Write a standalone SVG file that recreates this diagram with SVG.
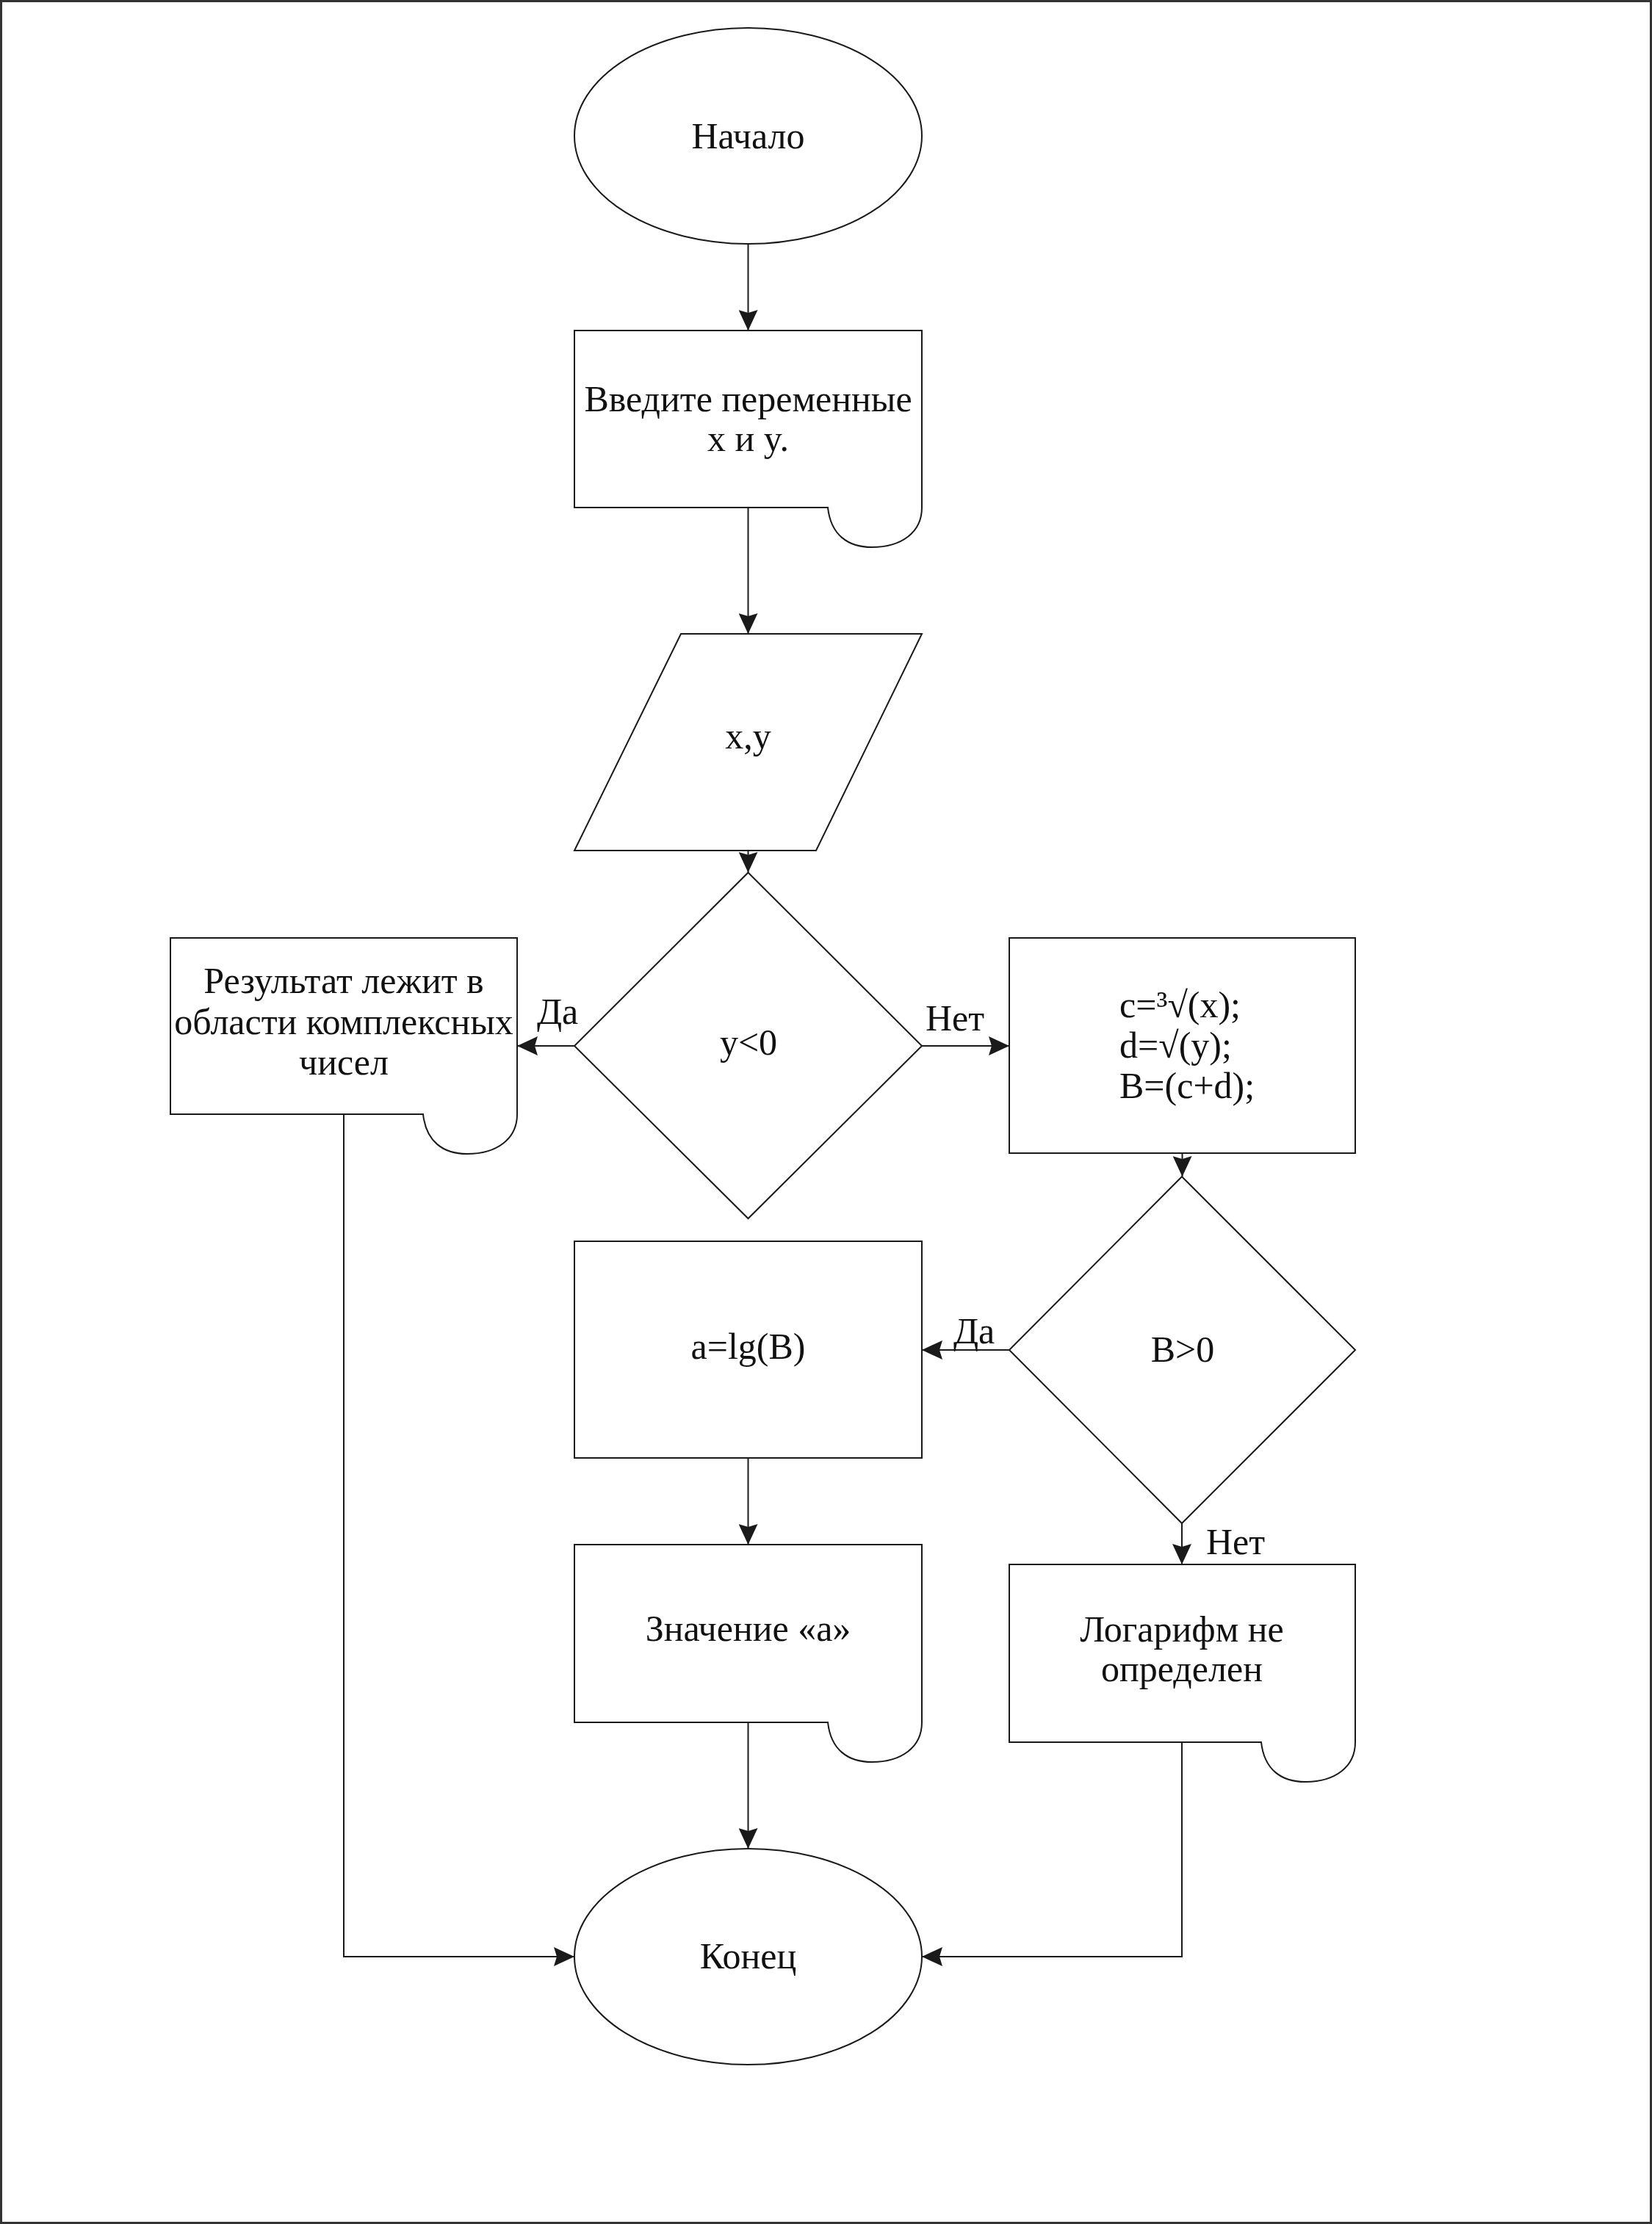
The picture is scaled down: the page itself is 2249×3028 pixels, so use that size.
<svg xmlns="http://www.w3.org/2000/svg" width="2249" height="3028" viewBox="0 0 2249 3028">
<style>
.s{fill:#fff;stroke:#1a1a1a;stroke-width:2}
.t{font-family:"Liberation Serif","Times New Roman",serif;font-size:50px;fill:#111;text-anchor:middle}
.l{font-family:"Liberation Serif","Times New Roman",serif;font-size:50px;fill:#111;text-anchor:start}
.c{fill:none;stroke:#1a1a1a;stroke-width:2}
</style>
<defs>
<marker id="ah" viewBox="0 0 28 26" refX="28" refY="13" markerWidth="28" markerHeight="26" markerUnits="userSpaceOnUse" orient="auto">
<path d="M0,0 L28,13 L0,26 L4,13 Z" fill="#1a1a1a"/>
</marker>
</defs>
<rect x="1.5" y="1.5" width="2246" height="3025" fill="#fff" stroke="#333" stroke-width="3"/>
<g id="start">
<ellipse class="s" cx="1018.5" cy="185" rx="236.5" ry="147"/>
<text class="t" x="1018.5" y="202">Начало</text>
</g>
<g id="prompt">
<path class="s" d="M782,450 H1255 V691 C1255,725 1227,745 1187,745 C1154,745 1131,728 1127,691 H782 Z"/>
<text class="t" x="1018.5" y="560">Введите переменные</text>
<text class="t" x="1018.5" y="614">x и y.</text>
</g>
<g id="input">
<path class="s" d="M927,863 H1255 L1111,1158 H782 Z"/>
<text class="t" x="1018.5" y="1019">x,y</text>
</g>
<g id="cond1">
<path class="s" d="M1018.5,1188 L1255,1424 L1018.5,1659 L782,1424 Z"/>
<text class="t" x="1019" y="1436">y&lt;0</text>
</g>
<g id="complex">
<path class="s" d="M232,1277 H704 V1517 C704,1551 676,1571 636,1571 C603,1571 580,1554 576,1517 H232 Z"/>
<text class="t" x="468" y="1352">Результат лежит в</text>
<text class="t" x="468" y="1408">области комплексных</text>
<text class="t" x="468" y="1463">чисел</text>
</g>
<g id="calc">
<rect class="s" x="1374" y="1277" width="471" height="293"/>
<text class="l" x="1524" y="1385">c=³√(x);</text>
<text class="l" x="1524" y="1440">d=√(y);</text>
<text class="l" x="1524" y="1495">B=(c+d);</text>
</g>
<g id="cond2">
<path class="s" d="M1609,1602 L1845,1838 L1609,2074 L1374,1838 Z"/>
<text class="t" x="1610" y="1854">B&gt;0</text>
</g>
<g id="log">
<rect class="s" x="782" y="1690" width="473" height="295"/>
<text class="t" x="1018.5" y="1850">a=lg(B)</text>
</g>
<g id="value">
<path class="s" d="M782,2103 H1255 V2345 C1255,2379 1227,2399 1187,2399 C1154,2399 1131,2382 1127,2345 H782 Z"/>
<text class="t" x="1018.5" y="2234">Значение «a»</text>
</g>
<g id="undef">
<path class="s" d="M1374,2130 H1845 V2372 C1845,2406 1817,2426 1777,2426 C1744,2426 1721,2409 1717,2372 H1374 Z"/>
<text class="t" x="1609" y="2235">Логарифм не</text>
<text class="t" x="1609" y="2289">определен</text>
</g>
<g id="end">
<ellipse class="s" cx="1018.5" cy="2664" rx="236.5" ry="147"/>
<text class="t" x="1018.5" y="2680">Конец</text>
</g>
<g id="connectors">
<path class="c" marker-end="url(#ah)" d="M1018.5,332 V450"/>
<path class="c" marker-end="url(#ah)" d="M1018.5,691 V863"/>
<path class="c" marker-end="url(#ah)" d="M1018.5,1158 V1188"/>
<path class="c" marker-end="url(#ah)" d="M782,1424 H704"/>
<path class="c" marker-end="url(#ah)" d="M1255,1424 H1374"/>
<path class="c" marker-end="url(#ah)" d="M1609.5,1570 V1602"/>
<path class="c" marker-end="url(#ah)" d="M1374,1838 H1255"/>
<path class="c" marker-end="url(#ah)" d="M1609,2074 V2130"/>
<path class="c" marker-end="url(#ah)" d="M1018.5,1985 V2103"/>
<path class="c" marker-end="url(#ah)" d="M1018.5,2345 V2517"/>
<path class="c" marker-end="url(#ah)" d="M468,1517 V2664 H782"/>
<path class="c" marker-end="url(#ah)" d="M1609,2372 V2664 H1255"/>
<text class="l" x="731" y="1394">Да</text>
<text class="l" x="1260" y="1403">Нет</text>
<text class="l" x="1298" y="1829">Да</text>
<text class="l" x="1642" y="2116">Нет</text>
</g>
</svg>
